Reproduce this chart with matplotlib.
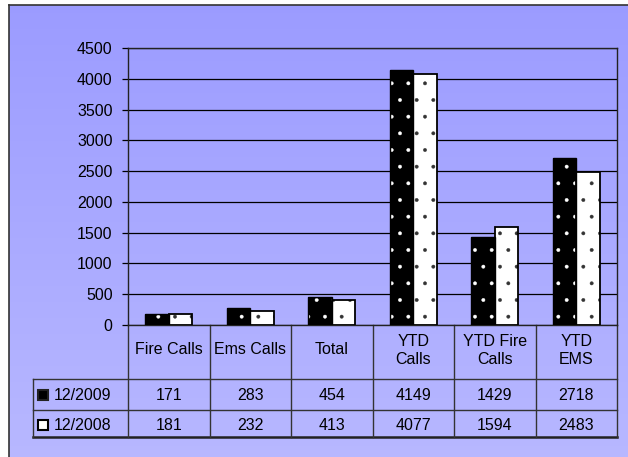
import numpy as np
import matplotlib
matplotlib.use("Agg")
from matplotlib import pyplot as plt

# chart data
categories = ["Fire Calls", "Ems Calls", "Total", "YTD\nCalls", "YTD Fire\nCalls", "YTD\nEMS"]
series_names = ["12/2009", "12/2008"]
values_2009 = [171, 283, 454, 4149, 1429, 2718]
values_2008 = [181, 232, 413, 4077, 1594, 2483]
y_ticks = [0, 500, 1000, 1500, 2000, 2500, 3000, 3500, 4000, 4500]

plt.rcParams['font.family'] = ['Liberation Sans', 'DejaVu Sans']
plt.rcParams['font.size'] = 11.5
plt.rcParams['hatch.linewidth'] = 0.3

W, H = 628, 457
fig = plt.figure(figsize=(W / 100, H / 100), dpi=100)
fig.patch.set_facecolor("white")

# gradient background inside the frame
bg = fig.add_axes([9 / W, 0, 1 - 9 / W, 1 - 5 / H], zorder=-10)
top = np.array([0.61, 0.61, 1.0])
bot = np.array([0.72, 0.72, 1.0])
t = np.linspace(0, 1, 256)[:, None]
grad = top[None, :] * (1 - t) + bot[None, :] * t
bg.imshow(grad[:, None, :], aspect="auto", extent=[0, 1, 0, 1])
bg.set_xticks([])
bg.set_yticks([])
for side in ["right", "bottom"]:
    bg.spines[side].set_visible(False)
for side in ["left", "top"]:
    bg.spines[side].set_color("#333333")
    bg.spines[side].set_linewidth(1.2)

# plot area in pixels
left, right, ytop, ybot = 128, 617, 48, 325
ax = fig.add_axes([left / W, 1 - ybot / H, (right - left) / W, (ybot - ytop) / H])
ax.patch.set_alpha(0)

x = np.arange(len(categories))
bw = 0.29
ax.bar(x - bw / 2, values_2009, bw, facecolor="black", edgecolor="white", hatch=".", linewidth=0, zorder=3)
ax.bar(x - bw / 2, values_2009, bw, fill=False, edgecolor="black", linewidth=1, zorder=4)
ax.bar(x + bw / 2, values_2008, bw, facecolor="white", edgecolor="#333333", hatch=".", linewidth=0, zorder=3)
ax.bar(x + bw / 2, values_2008, bw, fill=False, edgecolor="black", linewidth=1.3, zorder=4)

ax.set_xlim(-0.5, len(categories) - 0.5)
ax.set_ylim(0, 4500)
ax.set_yticks(y_ticks)
ax.yaxis.grid(True, color="black", linewidth=0.9, zorder=0)
ax.set_axisbelow(True)
ax.set_xticks([])
ax.tick_params(axis="y", length=4, width=0.9, pad=7, labelsize=11.5)
for s in ax.spines.values():
    s.set_color("#222222")
    s.set_linewidth(1.0)


# data table under the chart, drawn in pixel positions mapped to axes coords
def px(xp):
    return (xp - left) / (right - left)


def py(yp):
    return (ybot - yp) / (ybot - ytop)


line_kw = dict(color="#333333", linewidth=1.0, transform=ax.transAxes, clip_on=False)
tab_left = 33
row_lines = [379, 410, 437]
col_w = (right - left) / len(categories)
col_edges = [left + col_w * k for k in range(len(categories) + 1)]

for yl in row_lines[:-1]:
    ax.plot([px(tab_left), px(right)], [py(yl), py(yl)], **line_kw)
ax.plot([px(tab_left), px(right)], [py(437), py(437)], color="#222222", linewidth=1.8,
        transform=ax.transAxes, clip_on=False)
ax.plot([px(tab_left), px(tab_left)], [py(379), py(437)], **line_kw)
for xe in col_edges:
    ax.plot([px(xe), px(xe)], [py(ybot), py(437)], **line_kw)

for k, cat in enumerate(categories):
    xc = px(left + col_w * (k + 0.5))
    ax.text(xc, py(350), cat, ha="center", va="center", transform=ax.transAxes,
            linespacing=1.25, fontsize=11.5)
    ax.text(xc, py(395), str(values_2009[k]), ha="center", va="center", transform=ax.transAxes, fontsize=11.5)
    ax.text(xc, py(425), str(values_2008[k]), ha="center", va="center", transform=ax.transAxes, fontsize=11.5)

# row labels with legend keys
key_styles = [("black", "#222222"), ("white", "black")]
for i, name in enumerate(series_names):
    yc = py(395 + 30 * i)
    fc, ec = key_styles[i]
    ax.plot([px(43)], [yc], marker="s", markersize=6.5, markerfacecolor=fc,
            markeredgecolor=ec, markeredgewidth=1.5, transform=ax.transAxes, clip_on=False)
    ax.text(px(54), yc, name, ha="left", va="center", transform=ax.transAxes, fontsize=11.5)

fig.savefig("out.png", dpi=100)
